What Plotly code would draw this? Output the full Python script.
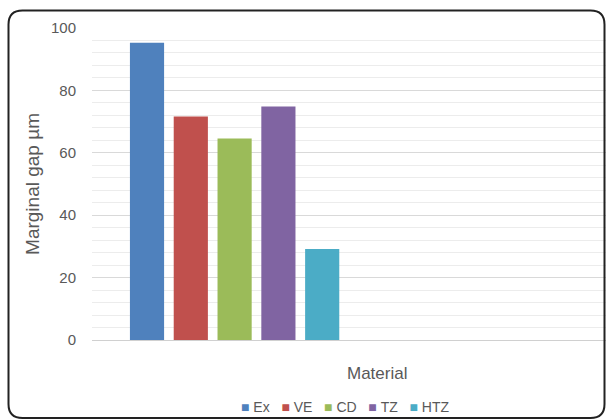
import plotly.graph_objects as go

# Marginal gap per material
materials = ["Ex", "VE", "CD", "TZ", "HTZ"]
gap_um = [95.3, 71.6, 64.6, 74.8, 29.2]
colors = ["#4F81BD", "#C0504D", "#9BBB59", "#8064A2", "#4BACC6"]
y_ticks = [0, 20, 40, 60, 80, 100]

W, H = 606, 419
ML, MR, MT, MB = 92, 0, 28, 79
PW, PH = W - ML - MR, H - MT - MB

fig = go.Figure()
for name, val, col in zip(materials, gap_um, colors):
    fig.add_trace(go.Bar(x=[name], y=[val], name=name, showlegend=False,
                         marker=dict(color=col, line=dict(width=0))))

def px_x(p):
    return (p - ML) / PW

def px_y(p):
    return (H - MB - p) / PH

# rounded outer frame
l, r, t, b, rad = 8.5, 604.5, 10.5, 418, 14
path = (
    f"M {px_x(l)},{px_y(t + rad)} Q {px_x(l)},{px_y(t)} {px_x(l + rad)},{px_y(t)} "
    f"L {px_x(r - rad)},{px_y(t)} Q {px_x(r)},{px_y(t)} {px_x(r)},{px_y(t + rad)} "
    f"L {px_x(r)},{px_y(b - rad)} Q {px_x(r)},{px_y(b)} {px_x(r - rad)},{px_y(b)} "
    f"L {px_x(l + rad)},{px_y(b)} Q {px_x(l)},{px_y(b)} {px_x(l)},{px_y(b - rad)} Z"
)
fig.add_shape(type="path", path=path, xref="paper", yref="paper",
              line=dict(color="#222222", width=2), fillcolor="rgba(0,0,0,0)", layer="above")

font = "Liberation Sans, Arial, sans-serif"
fig.add_annotation(text="Material", xref="paper", yref="paper",
                   x=px_x(377), y=px_y(373), showarrow=False, xanchor="center", yanchor="middle",
                   font=dict(family=font, size=17, color="#595959"))

# compact horizontal legend built from the series names and colours
legend_text = "&nbsp;&nbsp;&nbsp;".join(
    f"<span style='color:{c}'>■</span>&nbsp;{n}" for n, c in zip(materials, colors)
)
fig.add_annotation(text=legend_text, xref="paper", yref="paper",
                   x=px_x(345), y=px_y(407), showarrow=False, xanchor="center", yanchor="middle",
                   font=dict(family=font, size=14, color="#595959"))

fig.update_layout(
    width=W, height=H,
    margin=dict(l=ML, r=MR, t=MT, b=MB, autoexpand=False),
    paper_bgcolor="white", plot_bgcolor="white",
    barmode="overlay", bargap=0.22,
    font=dict(family=font, color="#595959"),
    xaxis=dict(type="category", categoryorder="array", categoryarray=materials,
               range=[-1.256, 10.48], showticklabels=False, showgrid=False,
               zeroline=False, showline=False, fixedrange=True),
    yaxis=dict(range=[0, 100], tickvals=y_ticks, ticks="outside", ticklen=12,
               tickcolor="rgba(0,0,0,0)", tickfont=dict(size=15, color="#595959"),
               showgrid=True, gridcolor="#d9d9d9", gridwidth=1,
               minor=dict(dtick=4, tick0=0, showgrid=True, gridcolor="#ececec", gridwidth=1),
               zeroline=True, zerolinecolor="#d0d0d0", zerolinewidth=1,
               title=dict(text="Marginal gap µm", font=dict(size=19, color="#595959"), standoff=6)),
)

fig.write_html("out.html")
